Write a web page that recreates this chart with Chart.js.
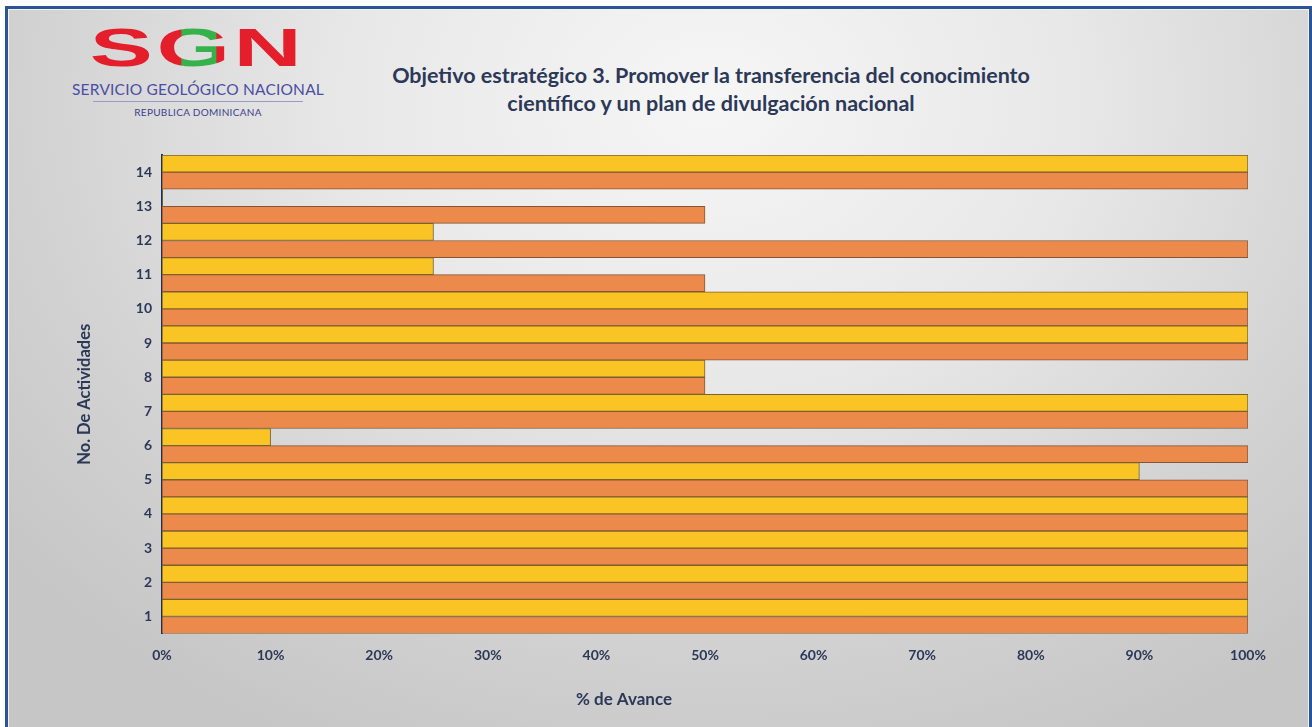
<!DOCTYPE html>
<html lang="es">
<head>
  <meta charset="UTF-8" />
  <title>Objetivo estratégico 3</title>
  <script src="https://cdn.jsdelivr.net/npm/chart.js"></script>
  <style>
    :root {
      --navy: #2c3858;
      --frame: #2a5493;
    }

    body {
      margin: 0;
      width: 1312px;
      height: 727px;
      overflow: hidden;
      background: #fff;
      font-family: 'Lato', sans-serif;
      position: relative;
    }

    .frame {
      position: absolute;
      left: 5px;
      top: 6px;
      width: 1307px;
      height: 760px;
      box-sizing: border-box;
      border: 3px solid var(--frame);
      box-shadow: inset 0 0 0 1px #f2f2f2;
      background: radial-gradient(ellipse 70% 95% at 54% 12%, #f6f6f6 0%, #e8e8e8 40%, #d2d2d2 75%, #c6c6c6 100%);
    }

    .logo {
      position: absolute;
      left: 60px;
      top: 20px;
      width: 276px;
      text-align: center;
    }

    .logo .sgn {
      display: inline-block;
      font-family: 'Liberation Sans', sans-serif;
      font-weight: bold;
      font-size: 54px;
      line-height: 54px;
      letter-spacing: 2px;
      color: #e41e2a;
      transform: scaleX(1.75);
    }

    .logo .sgn .g {
      background: linear-gradient(90deg, #e41e2a 0%, #e41e2a 32%, #35b24a 32%, #35b24a 78%, #e41e2a 78%);
      -webkit-background-clip: text;
      background-clip: text;
      color: transparent;
    }

    .logo .sgs {
      font-size: 15.5px;
      color: #4a4ea6;
      margin-top: 6px;
      letter-spacing: 0.2px;
    }

    .logo .line {
      width: 210px;
      height: 1px;
      background: #9a9ac8;
      margin: 3px auto 4px;
    }

    .logo .rd {
      font-size: 10px;
      color: #3c3f8c;
      letter-spacing: 0.3px;
    }

    h2 {
      position: absolute;
      left: 311px;
      top: 61px;
      width: 800px;
      margin: 0;
      text-align: center;
      font-size: 21.5px;
      line-height: 28px;
      font-weight: bold;
      color: var(--navy);
    }

    canvas {
      position: absolute;
      left: 0;
      top: 0;
    }
  </style>
</head>
<body>

  <div class="frame"></div>

  <div class="logo">
    <div class="sgn">S<span class="g">G</span>N</div>
    <div class="sgs">SERVICIO GEOLÓGICO NACIONAL</div>
    <div class="line"></div>
    <div class="rd">REPUBLICA DOMINICANA</div>
  </div>

  <h2>Objetivo estratégico 3. Promover la transferencia del conocimiento<br>científico y un plan de divulgación nacional</h2>

  <canvas id="grafavance" width="1312" height="727"></canvas>

  <script>
    // actividades de arriba hacia abajo (14 arriba)
    const actividades = ['14', '13', '12', '11', '10', '9', '8', '7', '6', '5', '4', '3', '2', '1'];
    const serieAmarilla = [100, 0, 25, 25, 100, 100, 50, 100, 10, 90, 100, 100, 100, 100];
    const serieNaranja = [100, 50, 100, 50, 100, 100, 50, 100, 100, 100, 100, 100, 100, 100];
    const ticksAvance = [0, 10, 20, 30, 40, 50, 60, 70, 80, 90, 100];

    const navy = '#2c3858';
    const fuente = 'Lato';

    // sin borde cuando la barra vale 0
    const bordeBarra = c => (c.raw ? 1 : 0);

    const ctx = document.getElementById('grafavance').getContext('2d');
    new Chart(ctx, {
      type: 'bar',
      data: {
        labels: actividades,
        datasets: [
          {
            label: 'Serie 1',
            data: serieAmarilla,
            backgroundColor: '#f9c424',
            borderColor: '#7a632b',
            borderWidth: bordeBarra,
            borderSkipped: false,
            barPercentage: 1,
            categoryPercentage: 1
          },
          {
            label: 'Serie 2',
            data: serieNaranja,
            backgroundColor: '#eb8a4a',
            borderColor: '#85553a',
            borderWidth: bordeBarra,
            borderSkipped: false,
            barPercentage: 1,
            categoryPercentage: 1
          }
        ]
      },
      options: {
        indexAxis: 'y',
        responsive: false,
        animation: false,
        layout: {
          padding: { top: 155, right: 64, bottom: 0, left: 0 }
        },
        plugins: {
          legend: { display: false },
          tooltip: { enabled: false },
          subtitle: {
            display: true,
            position: 'bottom',
            text: '% de Avance',
            color: navy,
            font: { family: fuente, size: 17, weight: 'bold', lineHeight: 1.2 },
            padding: { top: 8, bottom: 17 }
          }
        },
        scales: {
          x: {
            min: 0,
            max: 100,
            afterBuildTicks: s => { s.ticks = ticksAvance.map(v => ({ value: v })); },
            afterFit: s => { s.height = 48; },
            grid: { display: false, drawTicks: false },
            border: { display: false },
            ticks: {
              callback: v => v + '%',
              color: navy,
              padding: 13,
              font: { family: fuente, size: 14, weight: 'bold' }
            }
          },
          y: {
            afterFit: s => { s.width = 162; },
            grid: { display: false, drawTicks: false },
            border: { display: true, color: '#1f3152', width: 2 },
            ticks: {
              color: navy,
              padding: 10,
              font: { family: fuente, size: 14, weight: 'bold' }
            },
            title: {
              display: true,
              text: 'No. De Actividades',
              color: navy,
              font: { family: fuente, size: 16.5, weight: 'bold', lineHeight: 1.2 },
              padding: { top: 75, bottom: 0 }
            }
          }
        }
      }
    });
  </script>
</body>
</html>
